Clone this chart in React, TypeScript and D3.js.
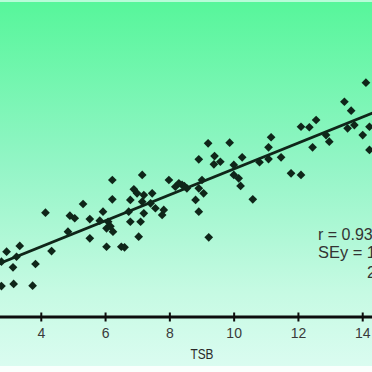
import { useMemo } from "react";
import * as d3 from "d3";

const WIDTH = 372;
const HEIGHT = 372;

// TSB (x) vs transcutaneous reading (y)
const TSB = [
  2.76, 2.92, 3.23, 3.33, 3.12, 3.82, 2.76, 3.14, 3.73, 4.32, 4.13, 4.83, 4.89,
  5.04, 5.3, 5.51, 5.51, 5.92, 5.82, 6.08, 6.03, 6.23, 6.03, 6.49, 6.21, 6.21,
  6.59, 6.72, 6.77, 6.77, 6.88, 6.98, 7.03, 7.09, 7.14, 7.14, 7.19, 7.19, 7.4,
  7.45, 7.55, 7.76, 7.81, 7.97, 8.17, 8.38, 8.53, 8.8, 8.9, 8.9, 8.9, 9.0,
  9.05, 9.19, 9.21, 9.39, 9.37, 9.57, 9.86, 9.99, 9.99, 10.14, 10.2, 10.25,
  10.58, 10.79, 11.07, 11.07, 11.15, 11.46, 11.77, 12.08, 12.08, 12.34, 12.44,
  12.55, 12.86, 12.96, 13.43, 13.53, 13.64, 13.74, 14.0, 14.1, 14.21, 14.21,
  8.28, 8.45, 6.15,
];
const TCB = [
  4.27, 5.04, 4.65, 5.48, 3.83, 4.09, 2.39, 2.55, 2.42, 5.09, 8.05, 6.58, 7.82,
  7.62, 8.72, 7.56, 6.07, 8.13, 7.43, 7.35, 6.84, 6.58, 5.42, 5.42, 10.57, 9.08,
  5.38, 8.13, 9.03, 7.35, 9.85, 9.54, 6.2, 7.35, 8.9, 10.96, 9.41, 8.0, 8.77,
  9.54, 8.39, 7.87, 8.26, 10.57, 10.05, 10.19, 9.93, 9.03, 9.93, 8.13, 12.17,
  10.57, 9.54, 13.4, 6.15, 12.42, 11.78, 11.98, 13.45, 11.73, 10.96, 10.7,
  10.11, 12.32, 9.08, 11.94, 12.19, 13.09, 13.87, 12.32, 11.09, 10.96, 14.68,
  14.64, 13.09, 15.2, 14.04, 13.53, 16.61, 14.56, 15.92, 14.81, 14.04, 18.08,
  14.68, 12.89, 10.32, 10.1, 7.0,
];
const X_TICKS = [2, 4, 6, 8, 10, 12, 14, 16];
const FIT = { intercept: 1.43, slope: 1.0 };
const STATS = ["r = 0.93", "SEy =  1", "2"];

const INK = "#0f2619";
const FONT = "'Liberation Sans', Arial, sans-serif";

export default function App() {
  const xScale = useMemo(
    () => d3.scaleLinear().domain([2, 16]).range([-23, 427]),
    []
  );
  const yScale = useMemo(
    () => d3.scaleLinear().domain([0, 25]).range([317, -7]),
    []
  );
  const axisY = yScale(0);

  const diamond = d3.symbol(d3.symbolSquare, 38)();

  const fitLine = d3
    .line<number>()
    .x((d) => xScale(d))
    .y((d) => yScale(FIT.intercept + FIT.slope * d))([2, 16]);

  return (
    <svg
      width={WIDTH}
      height={HEIGHT}
      style={{ position: "absolute", left: 0, top: 0 }}
    >
      <defs>
        <linearGradient id="bg" x1="0" y1="0" x2="0" y2="1">
          <stop offset="0" stopColor="#56f69a" />
          <stop offset="0.45" stopColor="#93f5c6" />
          <stop offset="0.8" stopColor="#c6fae3" />
          <stop offset="1" stopColor="#dafcf0" />
        </linearGradient>
      </defs>
      <rect width={WIDTH} height={HEIGHT} fill="#fbfffd" />
      <rect width={WIDTH} height={366} fill="url(#bg)" />
      <rect width={WIDTH} height={2} fill="#b8fcd8" />

      <path d={fitLine ?? ""} fill="none" stroke={INK} strokeWidth={2.8} />

      {TSB.map((x, i) => (
        <path
          key={i}
          d={diamond ?? ""}
          fill={INK}
          transform={`translate(${xScale(x)},${yScale(TCB[i])}) rotate(45)`}
        />
      ))}

      <line x1={0} x2={WIDTH} y1={axisY} y2={axisY} stroke="#0d0d0d" strokeWidth={3} />
      {X_TICKS.map((t) => (
        <g key={t} transform={`translate(${xScale(t)},0)`}>
          <line y1={axisY - 4.5} y2={axisY + 4.5} stroke="#0d0d0d" strokeWidth={2} />
          <text
            y={axisY + 21}
            textAnchor="middle"
            fontFamily={FONT}
            fontSize={14}
            fill="#3a3a3a"
          >
            {t}
          </text>
        </g>
      ))}
      <text
        x={xScale(9)}
        y={359}
        textAnchor="middle"
        fontFamily={FONT}
        fontSize={14}
        textLength={23}
        lengthAdjust="spacingAndGlyphs"
        fill="#2a2a2a"
      >
        TSB
      </text>

      <g fontFamily={FONT} fontSize={16} fill="#333">
        <text x={318} y={240}>
          {STATS[0]}
        </text>
        <text x={318} y={258} textLength={58} lengthAdjust="spacingAndGlyphs">
          {STATS[1]}
        </text>
        <text x={367} y={278}>
          {STATS[2]}
        </text>
      </g>
    </svg>
  );
}
